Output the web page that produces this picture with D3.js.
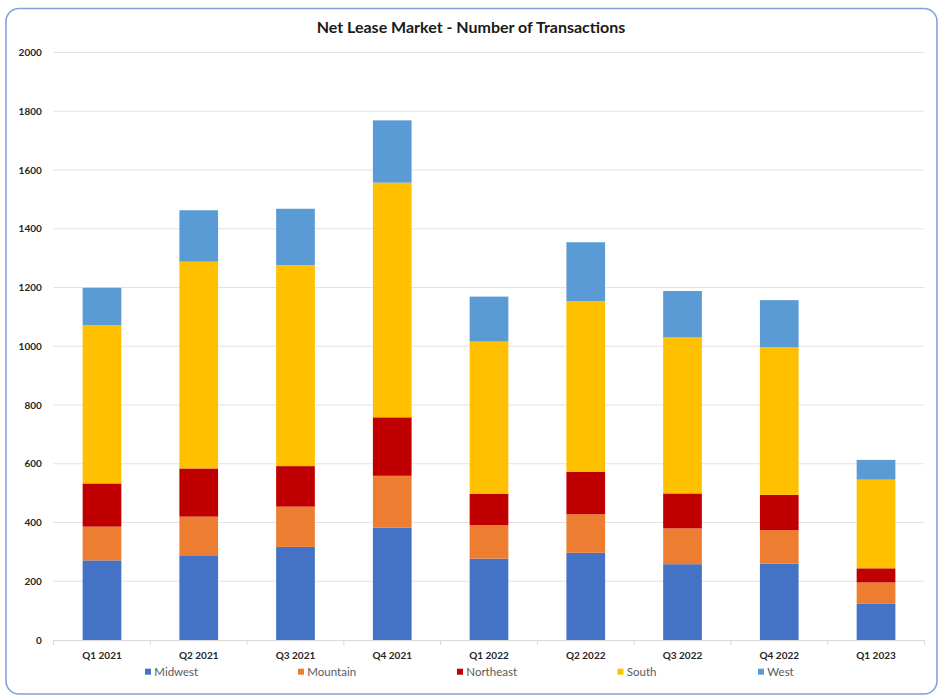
<!DOCTYPE html>
<html>
<head>
<meta charset="utf-8">
<script src="https://cdn.jsdelivr.net/npm/d3@7/dist/d3.min.js"></script>
<style>
  html, body { margin: 0; padding: 0; background: #fff; }
  svg { display: block; font-family: Lato, "Open Sans", sans-serif; }
</style>
</head>
<body>
<svg id="chart" width="940" height="696"></svg>
<script>
// Quarterly transaction counts by region
const quarters = ["Q1 2021", "Q2 2021", "Q3 2021", "Q4 2021", "Q1 2022", "Q2 2022", "Q3 2022", "Q4 2022", "Q1 2023"];
const regions = ["Midwest", "Mountain", "Northeast", "South", "West"];
const midwest   = [271, 286, 317, 382, 277, 297, 258, 260, 123];
const mountain  = [115, 134, 137, 177, 114, 131, 122, 114, 73];
const northeast = [147, 164, 138, 199, 107, 145, 119, 120, 48];
const south     = [539, 704, 684, 799, 518, 580, 531, 502, 302];
const west      = [127, 175, 192, 212, 153, 201, 158, 161, 67];
const yTicks = [0, 200, 400, 600, 800, 1000, 1200, 1400, 1600, 1800, 2000];
const colors = ["#4472c4", "#ed7d31", "#c00000", "#ffc000", "#5b9bd5"];

const seriesValues = [midwest, mountain, northeast, south, west];
const rows = quarters.map((q, i) => {
  const r = { quarter: q };
  regions.forEach((name, k) => { r[name] = seriesValues[k][i]; });
  return r;
});

const svg = d3.select("#chart");
const plot = { left: 53.6, right: 924.4, top: 52.5, bottom: 640 };

// Frame
svg.append("rect")
  .attr("x", 6).attr("y", 8.5)
  .attr("width", 931).attr("height", 685.5)
  .attr("rx", 13).attr("ry", 13)
  .attr("fill", "#fff")
  .attr("stroke", "#7fa3dc")
  .attr("stroke-width", 1.6);

// Title
svg.append("text")
  .attr("x", 471).attr("y", 32.5)
  .attr("text-anchor", "middle")
  .attr("font-size", 16)
  .attr("font-weight", "bold")
  .attr("fill", "#1a1a1a")
  .text("Net Lease Market  - Number of Transactions");

const x = d3.scaleBand()
  .domain(quarters)
  .range([plot.left, plot.right])
  .paddingInner(0.6)
  .paddingOuter(0.3);

const y = d3.scaleLinear()
  .domain([0, 2000])
  .range([plot.bottom, plot.top]);

// Gridlines
svg.append("g")
  .selectAll("line")
  .data(yTicks.filter(t => t > 0))
  .join("line")
  .attr("x1", plot.left).attr("x2", plot.right)
  .attr("y1", d => y(d)).attr("y2", d => y(d))
  .attr("stroke", "#e3e3e3")
  .attr("stroke-width", 1);

// Y axis labels
const yAxis = d3.axisLeft(y).tickValues(yTicks).tickFormat(d3.format("d")).tickSize(0).tickPadding(0);
const yg = svg.append("g")
  .attr("transform", `translate(${plot.left - 11.8},0)`)
  .call(yAxis);
yg.select(".domain").remove();
yg.selectAll("text")
  .attr("font-family", "Lato, sans-serif")
  .attr("font-size", 10)
  .attr("font-weight", "bold")
  .attr("fill", "#262626");

// Stacked bars
const stack = d3.stack().keys(regions);
const layers = stack(rows);

svg.append("g")
  .selectAll("g")
  .data(layers)
  .join("g")
  .attr("fill", (d, i) => colors[i])
  .selectAll("rect")
  .data(d => d)
  .join("rect")
  .attr("x", d => x(d.data.quarter))
  .attr("width", x.bandwidth())
  .attr("y", d => y(d[1]))
  .attr("height", d => y(d[0]) - y(d[1]));

// X axis: baseline, category separators, labels
const step = x.step();
const xAxis = d3.axisBottom(x).tickSize(0).tickPadding(11.5);
const xg = svg.append("g")
  .attr("transform", `translate(0,${plot.bottom})`)
  .call(xAxis);
xg.select(".domain").remove();
xg.selectAll("text")
  .attr("font-family", "Lato, sans-serif")
  .attr("font-size", 10)
  .attr("font-weight", "bold")
  .attr("fill", "#262626");

svg.append("line")
  .attr("x1", plot.left).attr("x2", plot.right)
  .attr("y1", plot.bottom + 0.5).attr("y2", plot.bottom + 0.5)
  .attr("stroke", "#d9d9d9");

const bounds = d3.range(quarters.length + 1).map(i => plot.left + i * step);
svg.append("g")
  .selectAll("line")
  .data(bounds)
  .join("line")
  .attr("x1", d => d).attr("x2", d => d)
  .attr("y1", plot.bottom).attr("y2", plot.bottom + 5)
  .attr("stroke", "#d9d9d9");

// Legend
const legendX = [145, 298, 457, 617.5, 758];
const legend = svg.append("g").attr("transform", "translate(0,672)");
const items = legend.selectAll("g")
  .data(regions)
  .join("g")
  .attr("transform", (d, i) => `translate(${legendX[i]},0)`);
items.append("rect")
  .attr("x", 0).attr("y", -3.3)
  .attr("width", 6).attr("height", 6)
  .attr("fill", (d, i) => colors[i]);
items.append("text")
  .attr("x", 9.3).attr("y", 4)
  .attr("font-size", 11.5)
  .attr("fill", "#595959")
  .text(d => d);
</script>
</body>
</html>
